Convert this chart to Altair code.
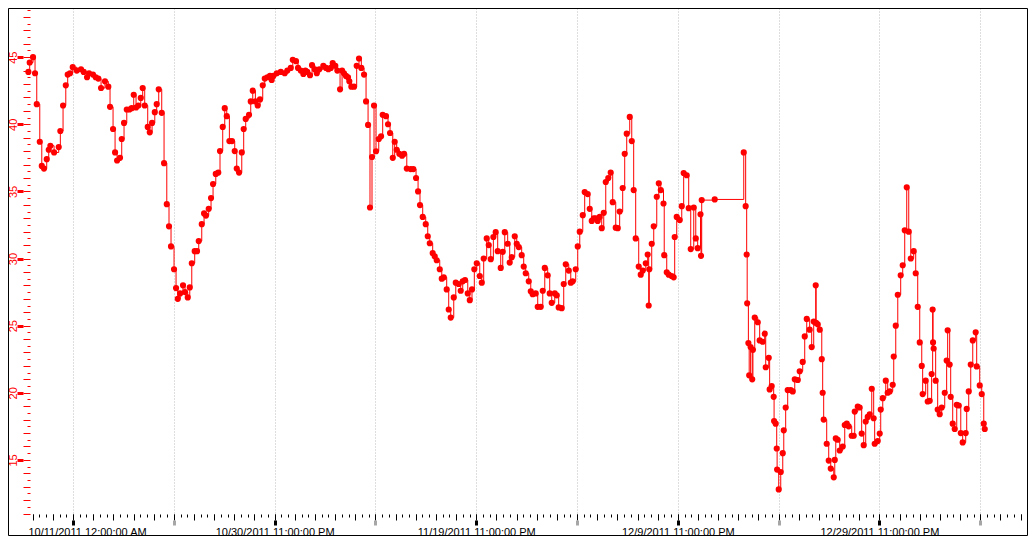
import altair as alt
import pandas as pd

# days after 10/11/2011 12:00 AM
DAYS = [
    -4.43, -4.30, -3.97, -3.77, -3.60, -3.30, -3.10, -2.88, -2.61, -2.41, -2.25, -1.88, -1.42, -1.26,
    -0.99, -0.72, -0.53, -0.30, -0.03, 0.37, 0.79, 1.06, 1.39, 1.59, 1.98, 2.25, 2.51, 2.78, 3.17,
    3.50, 3.67, 3.97, 4.17, 4.37, 4.66, 4.83, 5.06, 5.33, 5.59, 5.82, 6.02, 6.25, 6.48, 6.72, 6.91,
    7.11, 7.41, 7.61, 7.84, 8.11, 8.30, 8.50, 8.80, 9.03, 9.30, 9.52, 9.72, 10.02, 10.22, 10.39,
    10.62, 10.91, 11.11, 11.38, 11.58, 11.78, 12.07, 12.30, 12.47, 12.77, 13.00, 13.19, 13.46, 13.69,
    13.89, 14.16, 14.41, 14.58, 14.85, 15.05, 15.25, 15.51, 15.77, 16.04, 16.24, 16.47, 16.74, 16.93,
    17.13, 17.46, 17.63, 17.83, 18.09, 18.32, 18.55, 18.82, 19.02, 19.28, 19.54, 19.71, 19.87, 20.21,
    20.61, 21.00, 21.26, 21.60, 21.80, 22.12, 22.32, 22.59, 22.85, 23.05, 23.24, 23.51, 23.71, 23.98,
    24.18, 24.43, 24.83, 25.10, 25.33, 25.57, 25.76, 26.02, 26.22, 26.49, 26.69, 26.88, 27.08, 27.28,
    27.41, 27.61, 27.88, 28.14, 28.37, 28.60, 28.87, 29.07, 29.27, 29.46, 29.66, 29.86, 30.06, 30.33,
    30.56, 30.72, 31.05, 31.25, 31.45, 31.72, 31.91, 32.11, 32.37, 32.64, 32.84, 33.11, 33.50, 33.76,
    34.03, 34.23, 34.42, 34.69, 34.99, 35.19, 35.39, 35.68, 35.88, 36.08, 36.38, 36.58, 36.78, 37.07,
    37.27, 37.47, 37.77, 37.97, 38.26, 38.46, 38.66, 38.89, 39.16, 39.36, 39.58, 39.81, 40.05, 40.35,
    40.55, 40.74, 41.04, 41.24, 41.44, 41.70, 41.93, 42.13, 42.43, 42.63, 42.83, 43.12, 43.32, 43.52,
    43.82, 44.02, 44.22, 44.51, 44.71, 44.91, 45.21, 45.41, 45.60, 45.90, 46.10, 46.40, 46.60, 46.80,
    47.09, 47.29, 47.49, 47.79, 47.99, 48.18, 48.48, 48.68, 48.88, 49.18, 49.38, 49.57, 49.87, 50.07,
    50.27, 50.57, 50.76, 51.06, 51.26, 51.46, 51.66, 51.86, 52.05, 52.25, 52.45, 52.65, 52.85, 53.10,
    53.34, 53.54, 53.84, 54.04, 54.23, 54.53, 54.73, 54.93, 55.23, 55.43, 55.62, 55.82, 56.12, 56.32,
    56.52, 56.82, 57.01, 57.11, 57.17, 57.41, 57.61, 57.91, 58.11, 58.31, 58.58, 58.65, 58.90, 59.10,
    59.39, 59.59, 59.69, 59.89, 60.19, 60.39, 60.58, 60.88, 61.08, 61.28, 61.58, 61.78, 61.97, 62.25,
    62.30, 62.37, 63.66, 66.54, 66.73, 66.83, 66.88, 67.00, 67.08, 67.22, 67.38, 67.45, 67.63, 67.93,
    68.12, 68.42, 68.62, 68.72, 69.02, 69.11, 69.31, 69.51, 69.55, 69.71, 69.81, 69.85, 70.01, 70.21,
    70.41, 70.51, 70.70, 70.90, 71.20, 71.40, 71.60, 71.90, 72.09, 72.39, 72.59, 72.79, 73.08, 73.28,
    73.48, 73.68, 73.72, 73.88, 74.08, 74.28, 74.37, 74.47, 74.77, 74.97, 75.17, 75.47, 75.57, 75.67,
    75.86, 76.06, 76.36, 76.56, 76.76, 76.95, 77.25, 77.45, 77.55, 77.85, 78.04, 78.24, 78.44, 78.64,
    78.84, 79.04, 79.24, 79.43, 79.53, 79.83, 80.03, 80.13, 80.33, 80.63, 80.82, 81.02, 81.32, 81.42,
    81.62, 81.82, 82.11, 82.31, 82.51, 82.71, 82.91, 83.11, 83.40, 83.60, 83.80, 84.00, 84.20, 84.29,
    84.59, 84.79, 84.99, 85.18, 85.28, 85.32, 85.38, 85.58, 85.78, 85.98, 86.18, 86.48, 86.67, 86.77,
    86.97, 87.07, 87.27, 87.47, 87.67, 87.87, 88.07, 88.26, 88.56, 88.66, 88.86, 89.06, 89.26, 89.55,
    89.65, 89.95, 90.15, 90.35, 90.45,
]

VALUES = [
    43.9, 44.6, 45.0, 43.8, 41.5, 38.7, 36.9, 36.7, 37.4, 38.1, 38.4, 37.9, 38.3, 39.5,
    41.4, 42.9, 43.7, 43.8, 44.25, 44.0, 44.1, 43.9, 43.5, 43.8, 43.7, 43.5, 43.4, 42.7, 43.2,
    42.8, 41.3, 39.65, 37.9, 37.3, 37.5, 38.9, 40.1, 41.1, 41.1, 41.2, 42.2, 41.25, 41.4, 41.96, 42.7,
    41.4, 39.8, 39.4, 40.1, 40.9, 41.5, 42.6, 40.85, 37.1, 34.05, 32.4, 30.9, 29.2, 27.8, 27.0,
    27.4, 28.0, 27.5, 27.1, 27.85, 29.65, 30.55, 30.55, 31.3, 32.56, 33.36, 33.2, 33.7, 34.5,
    35.55, 36.3, 36.4, 38.0, 39.8, 41.2, 40.6, 38.75, 38.75, 38.0, 36.7, 36.4, 37.9, 39.65,
    40.4, 40.7, 41.7, 42.5, 41.7, 41.4, 41.85, 42.9, 43.4, 43.5, 43.6, 43.3, 43.6, 43.8,
    43.9, 43.8, 44.0, 44.2, 44.8, 44.7, 44.2, 44.0, 43.75, 44.0, 43.9, 43.65, 44.4, 44.1,
    43.8, 44.1, 44.35, 44.2, 44.1, 44.2, 44.55, 44.35, 44.0, 42.6, 44.0, 43.8, 43.6, 43.5,
    43.2, 42.8, 42.8, 44.35, 44.9, 44.2, 43.7, 41.7, 39.95, 33.8, 37.56, 41.4, 37.99, 38.9,
    39.1, 40.7, 40.6, 40.0, 39.35, 37.5, 38.7, 38.1, 37.8, 37.66, 37.8, 36.7, 36.66, 36.66,
    36.0, 35.0, 33.98, 33.1, 32.56, 31.66, 31.14, 30.4, 30.17, 29.87, 29.2, 28.5, 28.6, 27.7,
    26.2, 25.6, 27.1, 28.2, 28.1, 27.6, 28.3, 28.4, 27.4, 26.9, 27.7, 29.2, 29.65, 28.7,
    28.2, 30.0, 31.5, 31.0, 29.95, 31.6, 31.96, 30.55, 29.3, 30.5, 31.96, 31.1, 29.7, 30.1,
    31.66, 31.1, 30.85, 30.25, 29.4, 28.9, 28.3, 27.56, 27.34, 27.4, 26.4, 26.4, 27.6, 29.3,
    28.75, 27.4, 26.7, 27.4, 27.26, 26.36, 26.3, 28.1, 29.57, 29.1, 28.2, 28.3, 29.2, 30.9,
    32.0, 33.23, 34.95, 34.8, 33.7, 32.8, 33.0, 33.0, 32.8, 33.1, 32.26, 33.4, 35.7, 36.0,
    36.4, 34.2, 32.3, 32.26, 33.5, 35.25, 37.8, 39.3, 40.55, 38.75, 35.1, 31.5, 29.4, 28.8,
    29.1, 29.65, 30.3, 26.5, 29.2, 31.1, 32.4, 34.6, 35.6, 35.1, 34.1, 30.25, 28.98, 28.8,
    28.7, 28.6, 31.6, 33.1, 32.86, 33.9, 36.37, 36.2, 33.75, 30.7, 33.8, 31.5, 30.77, 33.3,
    30.2, 34.35, 34.4, 37.9, 33.9, 30.3, 26.66, 23.7, 21.3, 23.4, 21.0, 23.2, 25.6, 25.25,
    23.9, 23.8, 24.4, 21.9, 22.6, 20.25, 20.5, 19.7, 17.9, 17.7, 15.85, 14.28, 12.8, 14.1,
    15.5, 17.2, 18.9, 20.2, 20.2, 20.1, 21.0, 20.95, 21.6, 22.3, 24.2, 25.5, 24.7, 23.4,
    25.3, 28.0, 25.2, 25.1, 24.7, 22.5, 20.0, 18.0, 16.2, 14.95, 14.35, 13.7, 15.0, 16.6,
    16.5, 15.7, 16.0, 17.6, 17.7, 17.5, 16.8, 16.8, 18.6, 18.98, 18.9, 16.96, 16.1, 17.86,
    18.2, 18.4, 20.3, 18.1, 16.2, 16.4, 16.96, 18.75, 19.6, 20.9, 20.0, 20.1, 20.6, 22.7,
    25.0, 27.3, 28.75, 29.5, 32.1, 35.3, 32.0, 30.0, 30.55, 28.9, 26.4, 23.75, 22.0, 19.9,
    20.9, 19.35, 19.4, 21.4, 26.2, 23.75, 23.3, 20.9, 18.75, 18.4, 18.9, 20.0, 22.4, 24.65,
    22.1, 19.7, 17.7, 17.3, 19.1, 19.05, 17.0, 16.3, 17.0, 18.8, 20.1, 22.1, 23.9, 24.5,
    21.96, 20.55, 19.9, 17.7, 17.3,
]

TICK_DAYS = [0, 20, 40, 60, 80]
TICK_LABELS = [
    "10/11/2011 12:00:00 AM",
    "10/30/2011 11:00:00 PM",
    "11/19/2011 11:00:00 PM",
    "12/9/2011 11:00:00 PM",
    "12/29/2011 11:00:00 PM",
]
GRAY_TICK_DAYS = [10, 30, 50, 70, 90]
GRID_DAYS = [0, 10, 20, 30, 40, 50, 60, 70, 80, 90]
Y_MAJOR = [15, 20, 25, 30, 35, 40, 45]

X_DOMAIN = [-4.27, 94.74]
Y_DOMAIN = [10.97, 48.66]

df = pd.DataFrame({"day": DAYS, "value": VALUES})

FONT = "Liberation Sans"
RED = "#ff0000"
W, H = 998, 506

xs = alt.Scale(domain=X_DOMAIN, nice=False, zero=False)
ys = alt.Scale(domain=Y_DOMAIN, nice=False, zero=False)

minor_x = [k * 2 / 3 for k in range(-6, 143) if X_DOMAIN[0] <= k * 2 / 3 <= X_DOMAIN[1]]
long_x = [k * 2 for k in range(-2, 48) if X_DOMAIN[0] <= k * 2 <= X_DOMAIN[1]]
half_y = [k / 2 for k in range(22, 98) if k % 2 == 1]
int_y = [k for k in range(11, 49)]

base_ax = dict(domain=False, grid=False, title=None, labels=False)


def xaxis(**kw):
    d = dict(base_ax)
    d.update(kw)
    return alt.Axis(orient="bottom", **d)


def yaxis(**kw):
    d = dict(base_ax)
    d.update(kw)
    return alt.Axis(orient="left", **d)


def layer(mark, xa, ya):
    return mark.encode(
        x=alt.X("day:Q", scale=xs, axis=xa),
        y=alt.Y("value:Q", scale=ys, axis=ya),
    )


inv = alt.Chart(df).mark_point(opacity=0, size=1)

label_expr = " : ".join(
    f"datum.value == {d} ? '{l}'" for d, l in zip(TICK_DAYS[1:], TICK_LABELS[1:])
) + " : ''"

grid_layer = layer(
    inv,
    xaxis(values=GRID_DAYS, grid=True, gridColor="#bdbdbd", gridDash=[1, 2], gridWidth=1, ticks=False),
    yaxis(values=half_y, tickSize=3, tickColor=RED, tickWidth=1),
)
l2 = layer(
    inv,
    xaxis(values=minor_x, tickSize=3, tickColor="black", tickWidth=1),
    yaxis(values=int_y, tickSize=7, tickColor=RED, tickWidth=1),
)
l3 = layer(
    inv,
    xaxis(values=long_x, tickSize=6, tickColor="black", tickWidth=1),
    yaxis(values=Y_MAJOR, offset=7, tickSize=6, tickColor=RED, tickWidth=3,
          labels=True, labelColor=RED, labelFont=FONT, labelFontSize=11,
          labelAngle=-90, labelAlign="center", labelBaseline="alphabetic",
          labelPadding=1, labelOverlap=False, labelFlush=False),
)
l4 = layer(
    inv,
    xaxis(values=TICK_DAYS[1:], offset=6, tickSize=5, tickWidth=3, tickColor="black",
          labels=True, labelExpr=label_expr, labelFont=FONT, labelFontSize=11,
          labelColor="black", labelPadding=1, labelOverlap=False, labelFlush=False),
    None,
)
l5 = layer(
    inv,
    xaxis(values=TICK_DAYS[:1], offset=6, tickSize=5, tickWidth=3, tickColor="black",
          labels=True, labelExpr=f"'{TICK_LABELS[0]}'", labelFont=FONT, labelFontSize=11,
          labelColor="black", labelPadding=1, labelOffset=14, labelOverlap=False,
          labelFlush=False),
    None,
)
l6 = layer(
    inv,
    xaxis(values=GRAY_TICK_DAYS, offset=6, tickSize=5, tickWidth=3, tickColor="#a6a6a6"),
    None,
)

line = layer(
    alt.Chart(df).mark_line(interpolate="step-after", color=RED, strokeWidth=1),
    None, None,
)
points = layer(
    alt.Chart(df).mark_circle(color=RED, size=38, opacity=1),
    None, None,
)

frame = alt.Chart(alt.Data(values=[{"f": 1}])).mark_rect(
    fillOpacity=0, stroke="black", strokeWidth=1
).encode(
    x=alt.value(-21.5), x2=alt.value(W - 0.5), y=alt.value(0.5), y2=alt.value(H + 21.5)
)

chart = (
    alt.layer(grid_layer, l2, l3, l4, l5, l6, line, points, frame)
    .resolve_axis(x="independent", y="independent")
    .properties(
        width=W,
        height=H,
        autosize=alt.AutoSizeParams(type="none"),
        padding={"left": 22, "top": 0, "right": 0, "bottom": 22},
        background="white",
    )
    .configure_view(strokeWidth=0)
)

chart.save("out.html", embed_options={"renderer": "svg", "actions": False})
